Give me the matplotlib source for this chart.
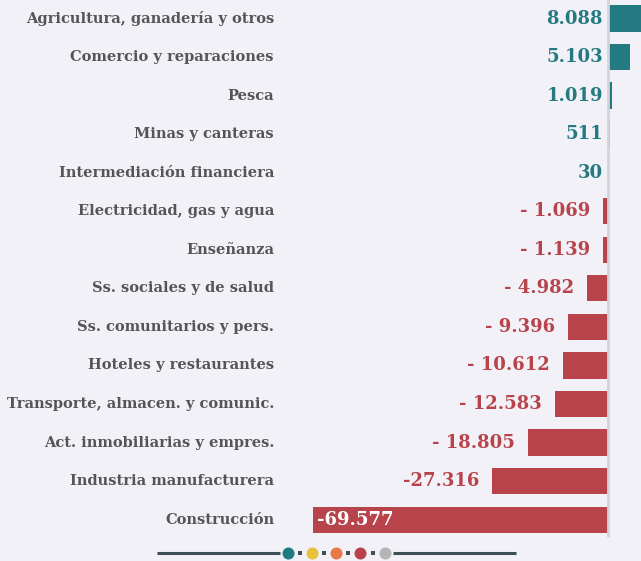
import matplotlib
matplotlib.use("Agg")
import matplotlib.pyplot as plt

# datos: variacion por sector
sectores = ["Agricultura, ganadería y otros", "Comercio y reparaciones", "Pesca",
            "Minas y canteras", "Intermediación financiera", "Electricidad, gas y agua",
            "Enseñanza", "Ss. sociales y de salud", "Ss. comunitarios y pers.",
            "Hoteles y restaurantes", "Transporte, almacen. y comunic.",
            "Act. inmobiliarias y empres.", "Industria manufacturera", "Construcción"]
valores = [8088, 5103, 1019, 511, 30, -1069, -1139, -4982, -9396, -10612,
           -12583, -18805, -27316, -69577]
etiquetas = ["8.088", "5.103", "1.019", "511", "30", "- 1.069", "- 1.139", "- 4.982",
             "- 9.396", "- 10.612", "- 12.583", "- 18.805", "-27.316", "-69.577"]

fondo = "#f2f1f7"
verde = "#237a80"
rojo = "#b8434b"
gris = "#555555"
fuente = "DejaVu Serif"

W, H = 641, 561
px = 236.0      # unidades por pixel
x0 = 608        # pixel del cero
paso = 38.55    # pixeles por fila
y_top = 18.5    # centro primera fila

fig = plt.figure(figsize=(W / 100, H / 100), dpi=100, facecolor=fondo)
ax = fig.add_axes([0, 0, 1, 1])
ax.set_facecolor(fondo)
ax.set_xlim(-x0 * px, (W - x0) * px)
ax.set_ylim((H - y_top) / paso, -y_top / paso)
ax.axis("off")

n = len(valores)
pos = list(range(n))
colores = [verde if v >= 0 else rojo for v in valores]
ax.barh(pos, valores, height=0.68, color=colores, zorder=2)
ax.vlines(0, -0.6, n - 1 + 0.45, color="#d4d4d8", lw=2, zorder=3)

for i in pos:
    ax.text((274 - x0) * px, i, sectores[i], ha="right", va="center",
            fontsize=10.5, fontweight="bold", color=gris, family=fuente)
    v = valores[i]
    if v >= 0:
        ax.text(-5 * px, i, etiquetas[i], ha="right", va="center", fontsize=13,
                fontweight="bold", color=verde, family=fuente)
    elif v < -50000:
        ax.text(v + 4 * px, i, etiquetas[i], ha="left", va="center", fontsize=13,
                fontweight="bold", color="white", family=fuente, zorder=4)
    else:
        ax.text(min(v, -1069) - 13 * px, i, etiquetas[i], ha="right", va="center",
                fontsize=13, fontweight="bold", color=rojo, family=fuente)

# subtitulo cortado arriba (en la referencia solo asoma el borde inferior)
fig.text(20 / W, 1 + 9 / H, "(en número de empleos)", ha="left", va="center",
         fontsize=11, color=gris, family=fuente)

# adorno inferior
ov = fig.add_axes([0, 0, 1, 1])
ov.set_xlim(0, W)
ov.set_ylim(H, 0)
ov.axis("off")
ov.patch.set_alpha(0)
yl = 553
ov.plot([157, 280], [yl, yl], color="#3d4f55", lw=2.2, solid_capstyle="butt")
ov.plot([393, 516], [yl, yl], color="#3d4f55", lw=2.2, solid_capstyle="butt")
puntos = [(288, "#1e7b80"), (312, "#e8c23a"), (336, "#e8784a"), (360, rojo), (385, "#b5b5b5")]
for xp, c in puntos:
    ov.scatter([xp], [yl], s=75, color=c, zorder=3, linewidths=0)
for xs in [300, 324, 348, 373]:
    ov.scatter([xs], [yl], s=6, marker="s", color="#3d4f55", zorder=3, linewidths=0)

fig.savefig("out.png", dpi=100, facecolor=fondo)
